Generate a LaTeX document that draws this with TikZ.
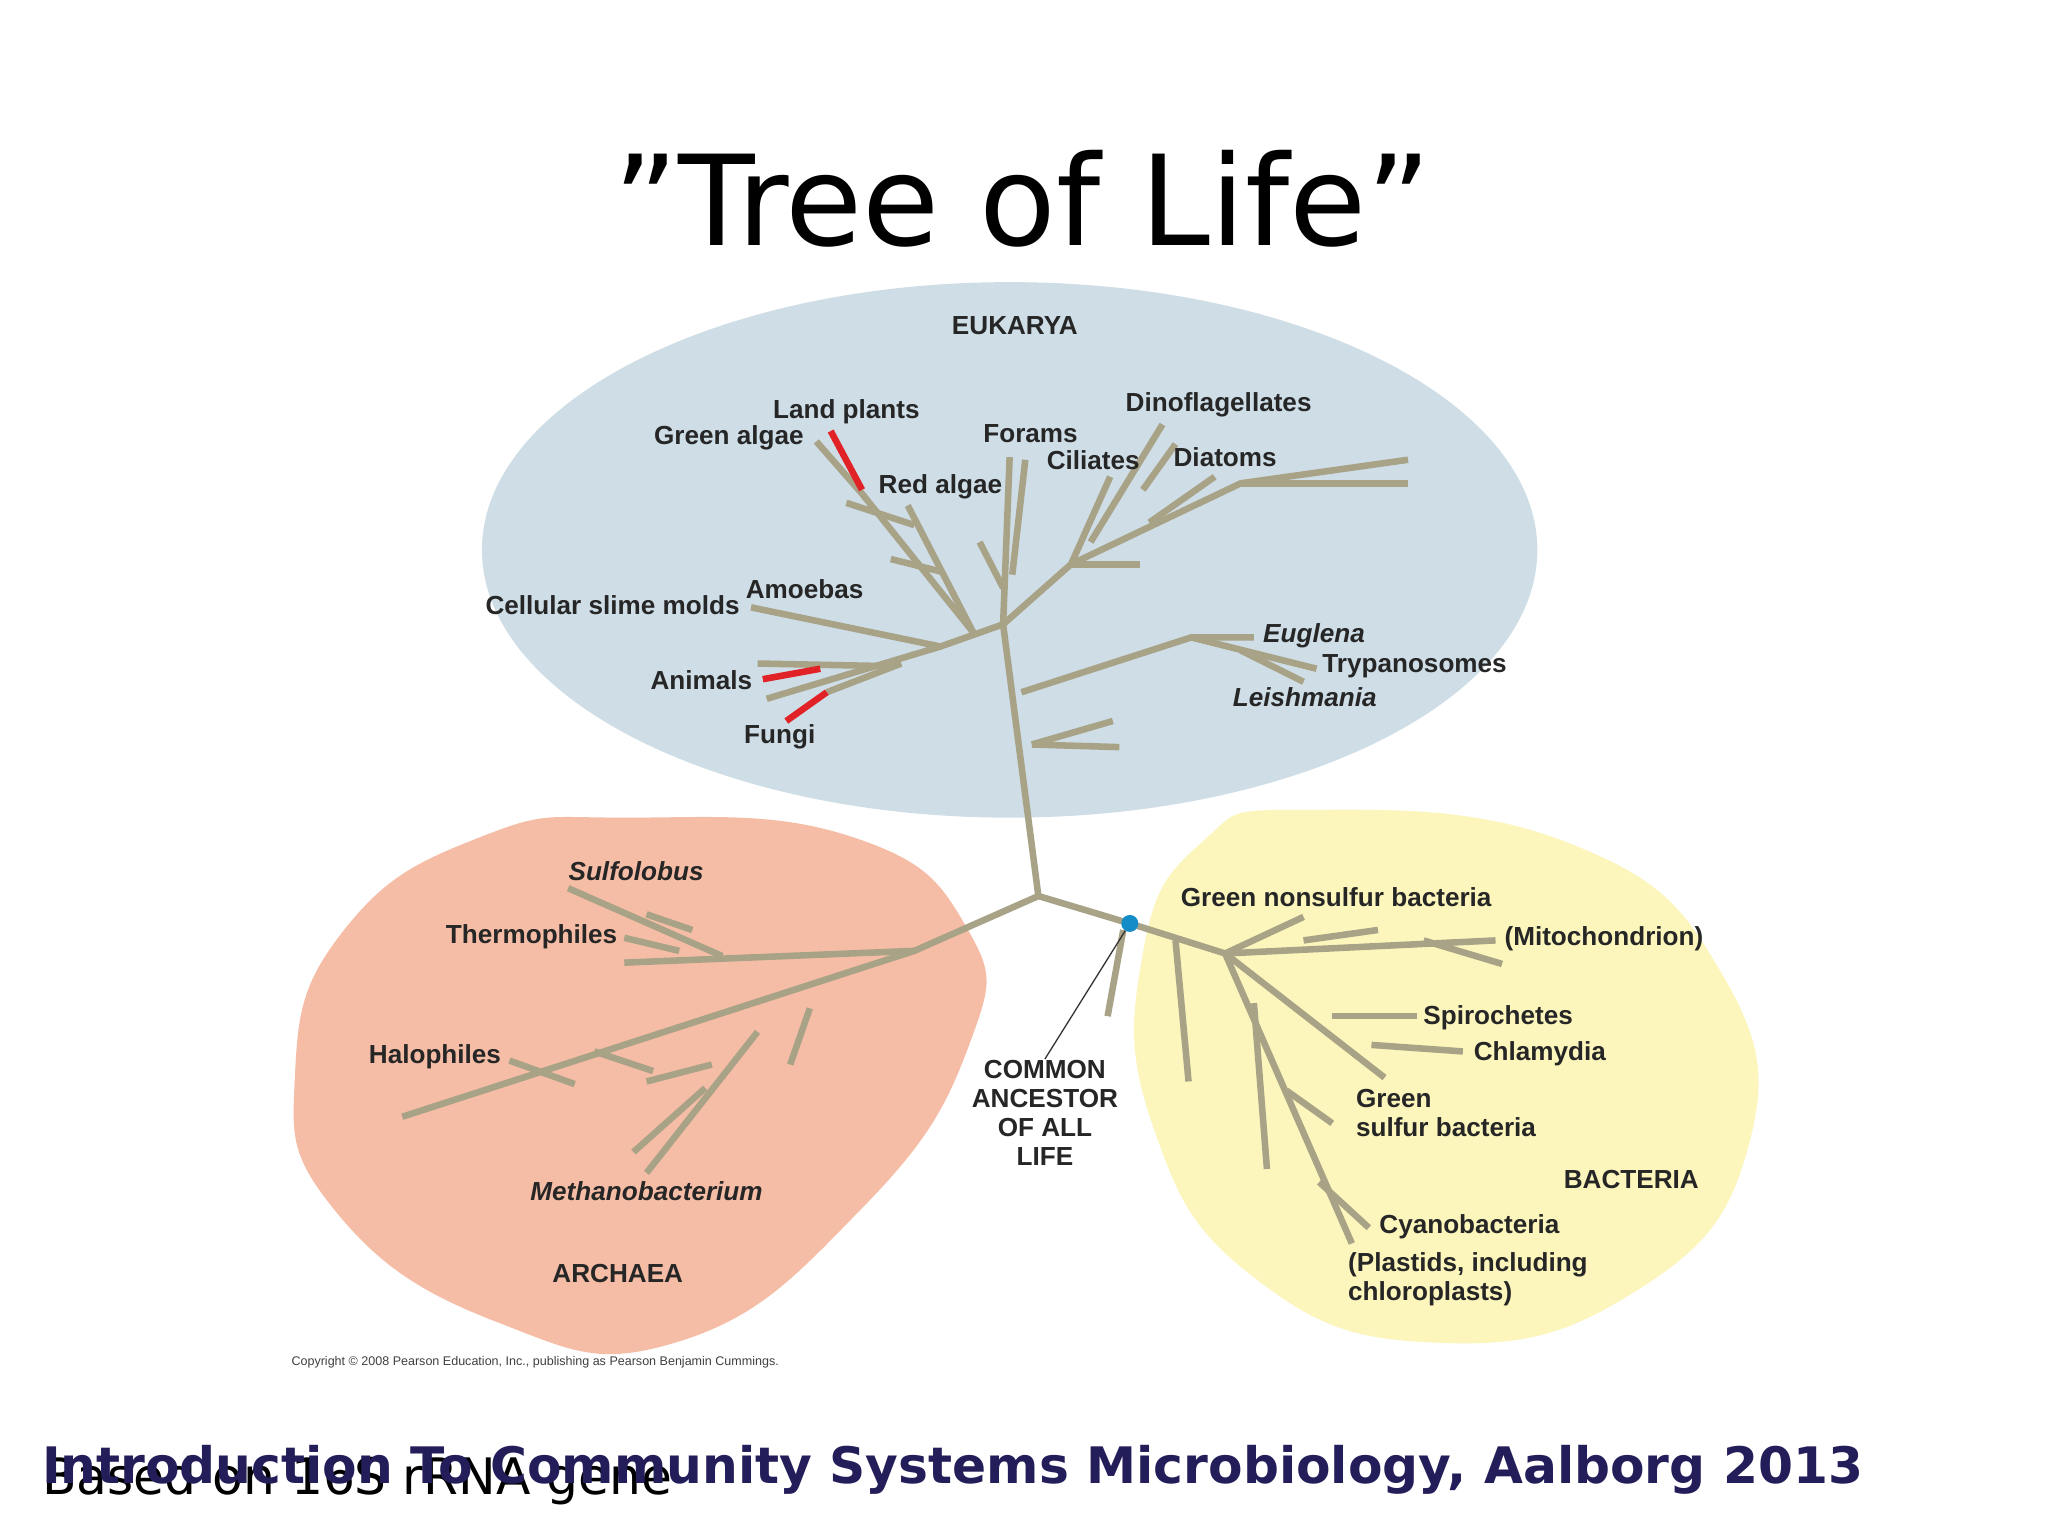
\documentclass[tikz,border=0pt]{standalone}
\usepackage{fontspec}
\setmainfont{Liberation Sans}
\newfontfamily\dvs{DejaVu Sans}
\begin{document}
\begin{tikzpicture}[x=1pt,y=-1pt,
  br/.style={draw=tan, line width=5pt},
  rd/.style={draw=redb, line width=5pt},
  lb/.style={font=\fontsize{20}{22}\selectfont\bfseries, text=black!85, inner sep=1pt, align=left},
  lbi/.style={lb, font=\fontsize{20}{22}\selectfont\bfseries\itshape}]
\definecolor{tan}{RGB}{168,162,134}
\definecolor{redb}{RGB}{225,35,40}
\definecolor{euk}{RGB}{206,221,230}
\definecolor{arc}{RGB}{246,189,166}
\definecolor{bac}{RGB}{252,246,188}
\definecolor{navy}{RGB}{35,30,90}
\useasboundingbox (0,0) rectangle (1568,1176);
\fill[white] (0,0) rectangle (1568,1176);
% blobs
\fill[euk] (773,421) ellipse [x radius=404, y radius=205];
\fill[arc] plot[smooth cycle, tension=0.8] coordinates {(480,626) (650,640) (740,710) (742,800) (660,925) (520,1027) (380,1012) (255,925) (226,820) (265,710) (370,640)};
\fill[bac] plot[smooth cycle, tension=0.8] coordinates {(1000,620) (1200,645) (1318,745) (1338,880) (1250,990) (1100,1028) (960,978) (882,860) (875,730) (920,645)};
% title
\node[font=\dvs\fontsize{96}{106}\selectfont] (title) at (783,152) {”Tree of Life”};
% Eukarya tree
\coordinate (root) at (795,686);
\coordinate (ce) at (768,478);
\draw[br] (root) -- (ce);
\draw[br] (790,570) -- (852,552); \draw[br] (790,570) -- (857,572);
\draw[br] (782,530) -- (912,488) -- (960,488);
\draw[br] (912,488) -- (1008,512); \draw[br] (950,498) -- (998,522);
% left group
\draw[br] (ce) -- (720,495) -- (587,535);
\draw[br] (720,495) -- (575,465);
\draw[br] (680,510) -- (580,508);
\draw[br] (690,508) -- (633,530);
\draw[rd] (584,520) -- (628,512);
\draw[rd] (602,552) -- (633,530);
\draw[br] (745,484) -- (660,378) -- (625,338);
\draw[rd] (636,330) -- (660,375);
\draw[br] (648,385) -- (700,402);
\draw[br] (682,428) -- (722,438);
\draw[br] (695,387) -- (745,484);
% middle
\draw[br] (ce) -- (773,350);
\draw[br] (785,352) -- (775,440);
\draw[br] (750,415) -- (768,450);
% right
\draw[br] (ce) -- (820,432) -- (950,370) -- (1078,352);
\draw[br] (950,370) -- (1078,370);
\draw[br] (820,432) -- (850,365);
\draw[br] (835,415) -- (890,325);
\draw[br] (875,375) -- (900,340);
\draw[br] (880,400) -- (930,365);
\draw[br] (820,432) -- (873,432);
% Archaea
\coordinate (ca) at (700,728);
\draw[br] (root) -- (ca) -- (478,737);
\draw[br] (553,732) -- (435,680);
\draw[br] (495,700) -- (530,712);
\draw[br] (478,718) -- (520,728);
\draw[br] (ca) -- (308,855);
\draw[br] (390,812) -- (440,830);
\draw[br] (455,805) -- (500,820);
\draw[br] (620,772) -- (605,815);
\draw[br] (580,790) -- (495,898);
\draw[br] (540,833) -- (485,882);
\draw[br] (545,815) -- (495,828);
% Bacteria
\coordinate (cb) at (865,707);
\coordinate (bb) at (938,730);
\draw[br] (root) -- (cb) -- (bb) -- (1145,720);
\draw[br] (bb) -- (998,702);
\draw[br] (998,720) -- (1055,712);
\draw[br] (1090,720) -- (1150,738);
\draw[br] (bb) -- (1035,952);
\draw[br] (bb) -- (1060,825);
\draw[br] (1020,778) -- (1085,778);
\draw[br] (1050,800) -- (1120,805);
\draw[br] (960,768) -- (970,895);
\draw[br] (985,835) -- (1020,860);
\draw[br] (1010,905) -- (1048,940);
\draw[br] (900,720) -- (910,828);
\draw[br] (860,712) -- (848,778);
\node[circle, fill={rgb,255:red,20;green,140;blue,200}, inner sep=0pt, minimum size=13pt] (dot) at (cb) {};
\node[lb, align=center] (ca1) at (800,852) {COMMON\\ANCESTOR\\OF ALL\\LIFE};
\draw[black!80, line width=1pt] (dot) -- (ca1.north);
% labels
\node[lb] (l1) at (777,249) {EUKARYA};
\node[lb] at (648,315) {Land plants};
\node[lb] at (558,335) {Green algae};
\node[lb] at (720,373) {Red algae};
\node[lb] at (789,332) {Forams};
\node[lb] at (837,352) {Ciliates};
\node[lb] at (933,310) {Dinoflagellates};
\node[lb] at (938,350) {Diatoms};
\node[lb] at (469,463) {Cellular slime molds};
\node[lb] at (616,451) {Amoebas};
\node[lb] at (537,521) {Animals};
\node[lb] at (597,564) {Fungi};
\node[lbi] at (1006,487) {Euglena};
\node[lb] at (1083,510) {Trypanosomes};
\node[lbi] at (999,534) {Leishmania};
\node[lbi] at (487,667) {Sulfolobus};
\node[lb] at (407,717) {Thermophiles};
\node[lb] at (333,809) {Halophiles};
\node[lbi] at (495,912) {Methanobacterium};
\node[lb] at (473,975) {ARCHAEA};
\node[lb] at (1023,687) {Green nonsulfur bacteria};
\node[lb] at (1228,719) {(Mitochondrion)};
\node[lb] at (1147,779) {Spirochetes};
\node[lb] at (1179,807) {Chlamydia};
\node[lb, anchor=west] at (1037,852) {Green\\sulfur bacteria};
\node[lb] at (1249,903) {BACTERIA};
\node[lb] at (1125,939) {Cyanobacteria};
\node[lb, anchor=north west] at (1031,958) {(Plastids, including\\chloroplasts)};
\node[font=\fontsize{9.6}{10}\selectfont, text=black!75, anchor=west, inner sep=0pt] at (223,1043) {Copyright © 2008 Pearson Education, Inc., publishing as Pearson Benjamin Cummings.};
% footer
\node[font=\dvs\fontsize{38.5}{42}\selectfont, anchor=base west, inner sep=0pt] at (32,1144) {Based on 16S rRNA gene};
\node[font=\dvs\fontsize{38.5}{42}\selectfont\bfseries, text=navy, anchor=base west, inner sep=0pt] at (32,1136) {Introduction To Community Systems Microbiology, Aalborg 2013};
\end{tikzpicture}
\end{document}
